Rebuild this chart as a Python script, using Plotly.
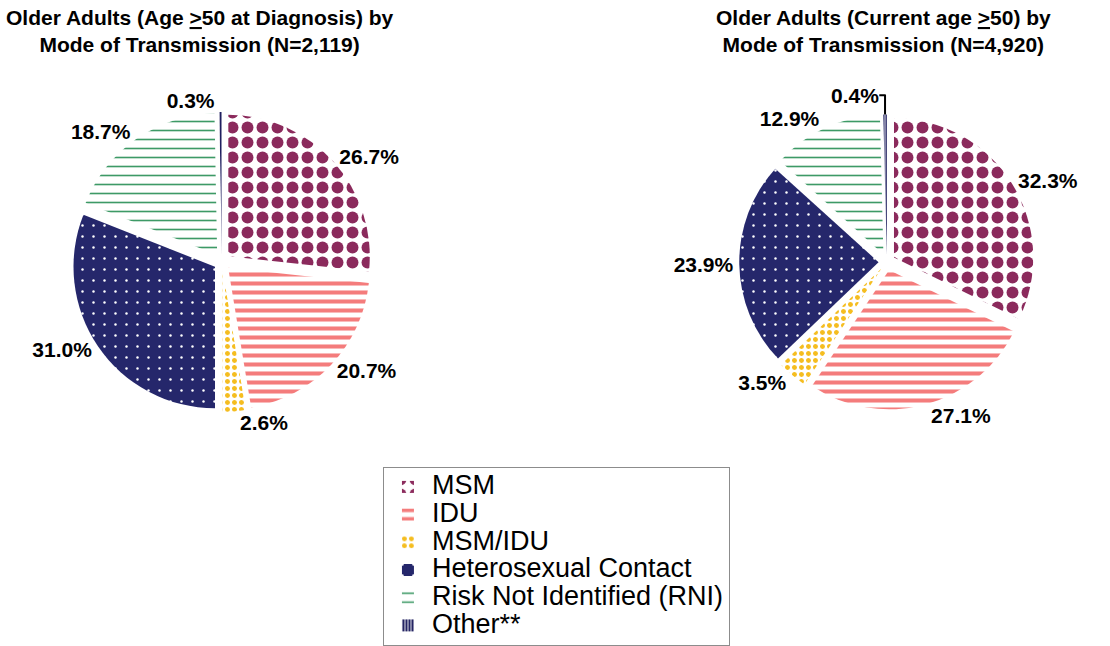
import plotly.graph_objects as go

categories = ["MSM", "IDU", "MSM/IDU", "Heterosexual Contact",
              "Risk Not Identified (RNI)", "Other**"]
at_diagnosis = [26.7, 20.7, 2.6, 31.0, 18.7, 0.3]
current_age = [32.3, 27.1, 3.5, 23.9, 12.9, 0.4]

fg_colors = ["#8B2A5C", "#F47C7C", "#F5BD1F", "#FFFFFF", "#3D9A66", "#1F1F5F"]
bg_colors = ["#FFFFFF", "#FFFFFF", "#FFFFFF", "#25276B", "#FFFFFF", "#FFFFFF"]
shapes = [".", "-", ".", ".", "-", "|"]
sizes = [15, 9, 7, 11, 9, 3]
solidity = [0.5, 0.45, 0.4, 0.04, 0.18, 0.7]

FONT = "Liberation Sans, Arial, sans-serif"
# legend entries drawn larger than the legend's base size so the rows stay compact
legend_labels = ['<span style="font-size:27px">%s</span>' % c for c in categories]


def pie(values, domain_x, show_legend):
    return go.Pie(
        labels=legend_labels,
        values=values,
        sort=False,
        direction="clockwise",
        rotation=0,
        pull=[0.06] * len(values),
        marker=dict(
            colors=bg_colors,
            pattern=dict(shape=shapes, fgcolor=fg_colors, bgcolor=bg_colors,
                         size=sizes, solidity=solidity, fgopacity=1,
                         fillmode="overlay"),
            line=dict(width=0),
        ),
        texttemplate="<b>%{value:.1f}%</b>",
        textposition="outside",
        textfont=dict(family=FONT, size=21, color="black"),
        domain=dict(x=domain_x, y=[0.3622, 0.8266]),
        showlegend=show_legend,
        hoverinfo="label+percent",
    )


fig = go.Figure()
fig.add_trace(pie(at_diagnosis, [0.0649, 0.3351], True))
fig.add_trace(pie(current_age, [0.666, 0.932], False))

fig.add_annotation(text="<b>Older Adults (Age <u>></u>50 at Diagnosis) by<br>Mode of Transmission (N=2,119)</b>",
                   x=0.18, y=0.994, xref="paper", yref="paper", xanchor="center", yanchor="top",
                   showarrow=False, font=dict(family=FONT, size=21, color="black"))
fig.add_annotation(text="<b>Older Adults (Current age <u>></u>50) by<br>Mode of Transmission (N=4,920)</b>",
                   x=0.796, y=0.994, xref="paper", yref="paper", xanchor="center", yanchor="top",
                   showarrow=False, font=dict(family=FONT, size=21, color="black"))

fig.update_layout(
    width=1110, height=646,
    margin=dict(l=0, r=0, t=0, b=0, autoexpand=False),
    paper_bgcolor="white",
    plot_bgcolor="white",
    legend=dict(x=0.345, y=0.277, xanchor="left", yanchor="top",
                bordercolor="#8C8C8C", borderwidth=1,
                font=dict(family=FONT, size=19, color="black"),
                itemwidth=38, tracegroupgap=0),
)

fig.write_html("out.html")
